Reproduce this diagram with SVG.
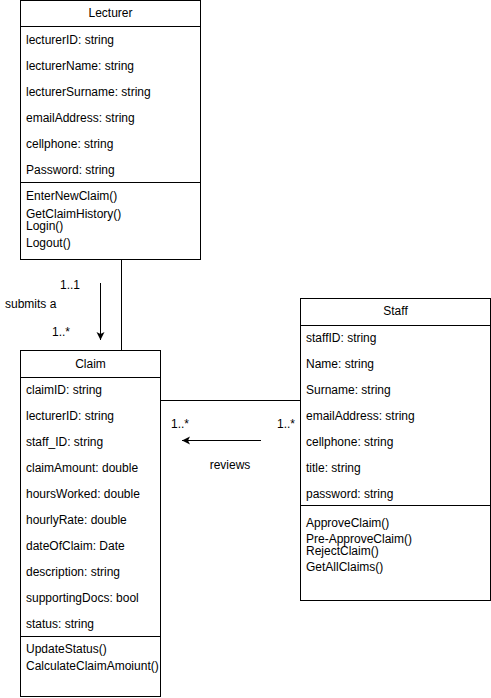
<svg xmlns="http://www.w3.org/2000/svg" width="491" height="698" viewBox="0 0 491 698">
<style>
rect.box{fill:#fff;stroke:#000;stroke-width:1}
line.div{stroke:#000;stroke-width:1}
text{font-family:"Liberation Sans",Arial,sans-serif;font-size:12px;fill:#000}
.t{text-anchor:middle}
.c{stroke:#000;stroke-width:1;fill:none}
</style>
<defs>
<marker id="ah" markerWidth="10" markerHeight="10" refX="8" refY="4" orient="auto" markerUnits="userSpaceOnUse">
<path d="M0,0 L8,4 L0,8 L2,4 Z" fill="#000"/>
</marker>
</defs>
<g id="connectors">
<line class="c" x1="121.5" y1="260" x2="121.5" y2="350"/>
<line class="c" x1="100.5" y1="283" x2="100.5" y2="340" marker-end="url(#ah)"/>
<line class="c" x1="161" y1="400.5" x2="300" y2="400.5"/>
<line class="c" x1="261" y1="440.5" x2="182" y2="440.5" marker-end="url(#ah)"/>
<text x="60" y="289">1..1</text>
<text x="5" y="308">submits a</text>
<text x="52" y="336">1..*</text>
<text x="171" y="428">1..*</text>
<text x="277" y="428">1..*</text>
<text x="230" y="469" class="t">reviews</text>
</g>
<g id="lecturer">
<rect class="box" x="20.5" y="0.5" width="180" height="259"/>
<line class="div" x1="20.5" y1="26.5" x2="200.5" y2="26.5"/>
<line class="div" x1="20.5" y1="182.5" x2="200.5" y2="182.5"/>
<text x="110.5" y="17" class="t">Lecturer</text>
<text x="26" y="44">lecturerID: string</text>
<text x="26" y="70">lecturerName: string</text>
<text x="26" y="96">lecturerSurname: string</text>
<text x="26" y="122">emailAddress: string</text>
<text x="26" y="148">cellphone: string</text>
<text x="26" y="174">Password: string</text>
<text x="26" y="200">EnterNewClaim()</text>
<text x="26" y="218">GetClaimHistory()</text>
<text x="26" y="230">Login()</text>
<text x="26" y="247">Logout()</text>
</g>
<g id="claim">
<rect class="box" x="20.5" y="350.5" width="140" height="346"/>
<line class="div" x1="20.5" y1="377.5" x2="160.5" y2="377.5"/>
<line class="div" x1="20.5" y1="636.5" x2="160.5" y2="636.5"/>
<text x="90.5" y="368" class="t">Claim</text>
<text x="26" y="394">claimID: string</text>
<text x="26" y="420">lecturerID: string</text>
<text x="26" y="446">staff_ID: string</text>
<text x="26" y="472">claimAmount: double</text>
<text x="26" y="498">hoursWorked: double</text>
<text x="26" y="524">hourlyRate: double</text>
<text x="26" y="550">dateOfClaim: Date</text>
<text x="26" y="576">description: string</text>
<text x="26" y="602">supportingDocs: bool</text>
<text x="26" y="628">status: string</text>
<text x="26" y="653">UpdateStatus()</text>
<text x="26" y="670">CalculateClaimAmoiunt()</text>
</g>
<g id="staff">
<rect class="box" x="300.5" y="298.5" width="190" height="302"/>
<line class="div" x1="300.5" y1="325.5" x2="490.5" y2="325.5"/>
<line class="div" x1="300.5" y1="505.5" x2="490.5" y2="505.5"/>
<text x="395.5" y="315" class="t">Staff</text>
<text x="306" y="342">staffID: string</text>
<text x="306" y="368">Name: string</text>
<text x="306" y="394">Surname: string</text>
<text x="306" y="420">emailAddress: string</text>
<text x="306" y="446">cellphone: string</text>
<text x="306" y="472">title: string</text>
<text x="306" y="498">password: string</text>
<text x="306" y="527">ApproveClaim()</text>
<text x="306" y="543">Pre-ApproveClaim()</text>
<text x="306" y="555">RejectClaim()</text>
<text x="306" y="571">GetAllClaims()</text>
</g>
</svg>
